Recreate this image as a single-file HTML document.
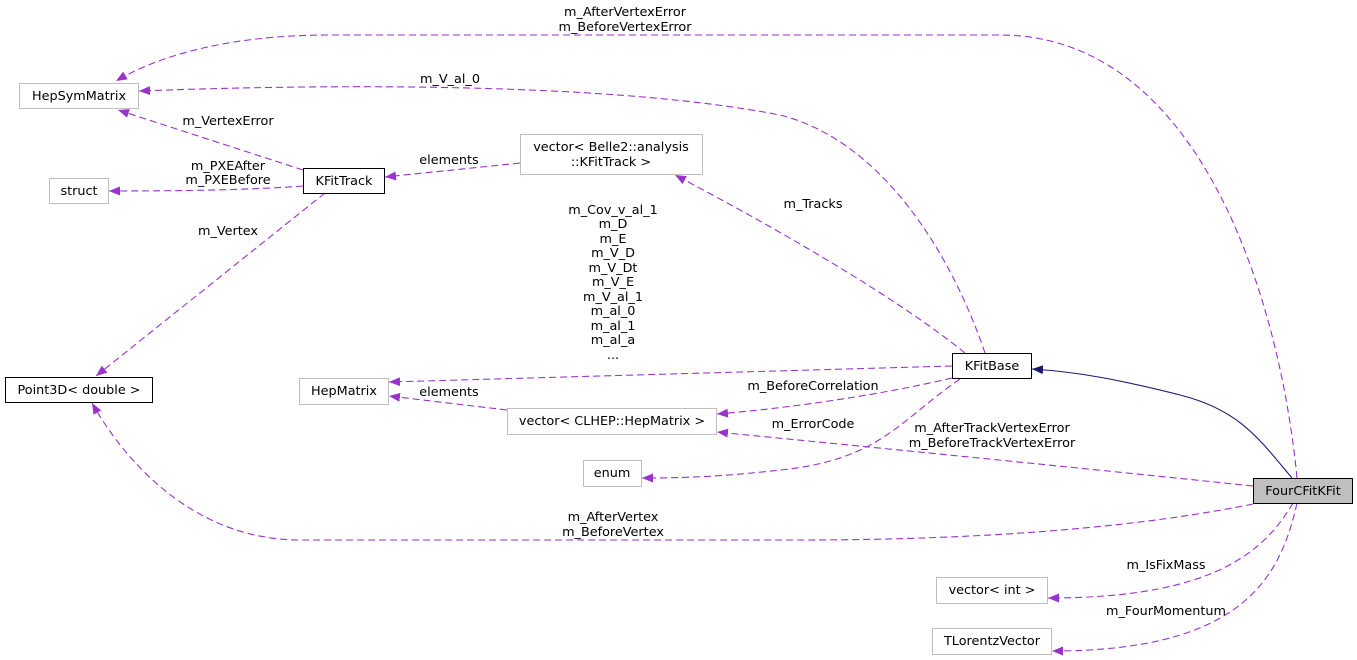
<!DOCTYPE html>
<html><head><meta charset="utf-8"><style>
html,body{margin:0;padding:0;background:#fff;}
svg{display:block;font-family:"DejaVu Sans","Liberation Sans",sans-serif;font-size:12.8px;}
</style></head><body>
<svg width="1357" height="660" viewBox="0 0 1357 660" xmlns="http://www.w3.org/2000/svg">
<defs>
<marker id="p" markerUnits="userSpaceOnUse" markerWidth="12" markerHeight="9" refX="11" refY="4.5" orient="auto"><path d="M0,0 L11,4.5 L0,9 z" fill="#9a32cd"/></marker>
<marker id="n" markerUnits="userSpaceOnUse" markerWidth="12" markerHeight="9" refX="11" refY="4.5" orient="auto"><path d="M0,0 L11,4.5 L0,9 z" fill="#191970"/></marker>
</defs>
<g fill="none" stroke="#9a32cd" stroke-dasharray="7,4" stroke-width="1.1">
<path d="M1297,478 C1280,300 1200,35 1000,35 L330,35 C230,35 160,55 116,81" marker-end="url(#p)"/>
<path d="M985,353 C950,250 880,140 780,115 C600,80 300,85 139,91" marker-end="url(#p)"/>
<path d="M303,170 L118,110" marker-end="url(#p)"/>
<path d="M303,186 C250,190 180,191 109,191" marker-end="url(#p)"/>
<path d="M325,193 L96,376" marker-end="url(#p)"/>
<path d="M520,163 L385,177" marker-end="url(#p)"/>
<path d="M965,353 C900,300 780,230 675,175" marker-end="url(#p)"/>
<path d="M952,366 L389,382" marker-end="url(#p)"/>
<path d="M507,410 L389,396" marker-end="url(#p)"/>
<path d="M952,378 C880,395 790,408 717,414" marker-end="url(#p)"/>
<path d="M960,379 C900,420 880,460 780,470 C720,477 680,478 642,478" marker-end="url(#p)"/>
<path d="M1253,486 C1100,470 900,450 717,432" marker-end="url(#p)"/>
<path d="M1253,504 C1150,525 1000,540 800,540 L300,540 C200,540 130,470 92,403" marker-end="url(#p)"/>
<path d="M1293,503 C1260,560 1200,598 1048,598" marker-end="url(#p)"/>
<path d="M1297,503 C1280,580 1240,651 1052,651" marker-end="url(#p)"/>
</g>
<path d="M1292,478 C1260,440 1240,410 1180,395 C1120,380 1080,372 1032,369" fill="none" stroke="#191970" stroke-width="1.1" marker-end="url(#n)"/>
<g stroke-width="1">
<rect x="19.5" y="83.5" width="119" height="25" fill="#fff" stroke="#bfbfbf"/>
<rect x="49.5" y="178.5" width="59" height="25" fill="#fff" stroke="#bfbfbf"/>
<rect x="303.5" y="168.5" width="81" height="25" fill="#fff" stroke="#000"/>
<rect x="5.5" y="377.5" width="147" height="25" fill="#fff" stroke="#000"/>
<rect x="520.5" y="134.5" width="182" height="40" fill="#fff" stroke="#bfbfbf"/>
<rect x="299.5" y="378.5" width="89" height="26" fill="#fff" stroke="#bfbfbf"/>
<rect x="507.5" y="408.5" width="209" height="26" fill="#fff" stroke="#bfbfbf"/>
<rect x="583.5" y="460.5" width="58" height="26" fill="#fff" stroke="#bfbfbf"/>
<rect x="952.5" y="353.5" width="79" height="25" fill="#fff" stroke="#000"/>
<rect x="1253.5" y="478.5" width="99" height="25" fill="#bfbfbf" stroke="#000"/>
<rect x="936.5" y="577.5" width="111" height="26" fill="#fff" stroke="#bfbfbf"/>
<rect x="932.5" y="628.5" width="119" height="26" fill="#fff" stroke="#bfbfbf"/>
</g>
<g fill="#000" text-anchor="middle">
<text x="79" y="100">HepSymMatrix</text>
<text x="79" y="195">struct</text>
<text x="344" y="185">KFitTrack</text>
<text x="79" y="394">Point3D&lt; double &gt;</text>
<text x="611" y="151">vector&lt; Belle2::analysis</text>
<text x="611" y="166">::KFitTrack &gt;</text>
<text x="344" y="395">HepMatrix</text>
<text x="612" y="425">vector&lt; CLHEP::HepMatrix &gt;</text>
<text x="612" y="477">enum</text>
<text x="992" y="370">KFitBase</text>
<text x="1303" y="495">FourCFitKFit</text>
<text x="992" y="594">vector&lt; int &gt;</text>
<text x="992" y="645">TLorentzVector</text>

<text x="625" y="16">m_AfterVertexError</text>
<text x="625" y="31">m_BeforeVertexError</text>
<text x="450" y="83">m_V_al_0</text>
<text x="228" y="125">m_VertexError</text>
<text x="228" y="170">m_PXEAfter</text>
<text x="228" y="184">m_PXEBefore</text>
<text x="228" y="235">m_Vertex</text>
<text x="449" y="164">elements</text>
<text x="813" y="208">m_Tracks</text>
<text x="613" y="214">m_Cov_v_al_1</text>
<text x="613" y="228">m_D</text>
<text x="613" y="243">m_E</text>
<text x="613" y="257">m_V_D</text>
<text x="613" y="272">m_V_Dt</text>
<text x="613" y="286">m_V_E</text>
<text x="613" y="301">m_V_al_1</text>
<text x="613" y="315">m_al_0</text>
<text x="613" y="330">m_al_1</text>
<text x="613" y="344">m_al_a</text>
<text x="613" y="359">...</text>
<text x="449" y="396">elements</text>
<text x="813" y="390">m_BeforeCorrelation</text>
<text x="813" y="428">m_ErrorCode</text>
<text x="992" y="432">m_AfterTrackVertexError</text>
<text x="992" y="447">m_BeforeTrackVertexError</text>
<text x="613" y="521">m_AfterVertex</text>
<text x="613" y="536">m_BeforeVertex</text>
<text x="1166" y="569">m_IsFixMass</text>
<text x="1166" y="615">m_FourMomentum</text>
</g>
</svg>
</body></html>
